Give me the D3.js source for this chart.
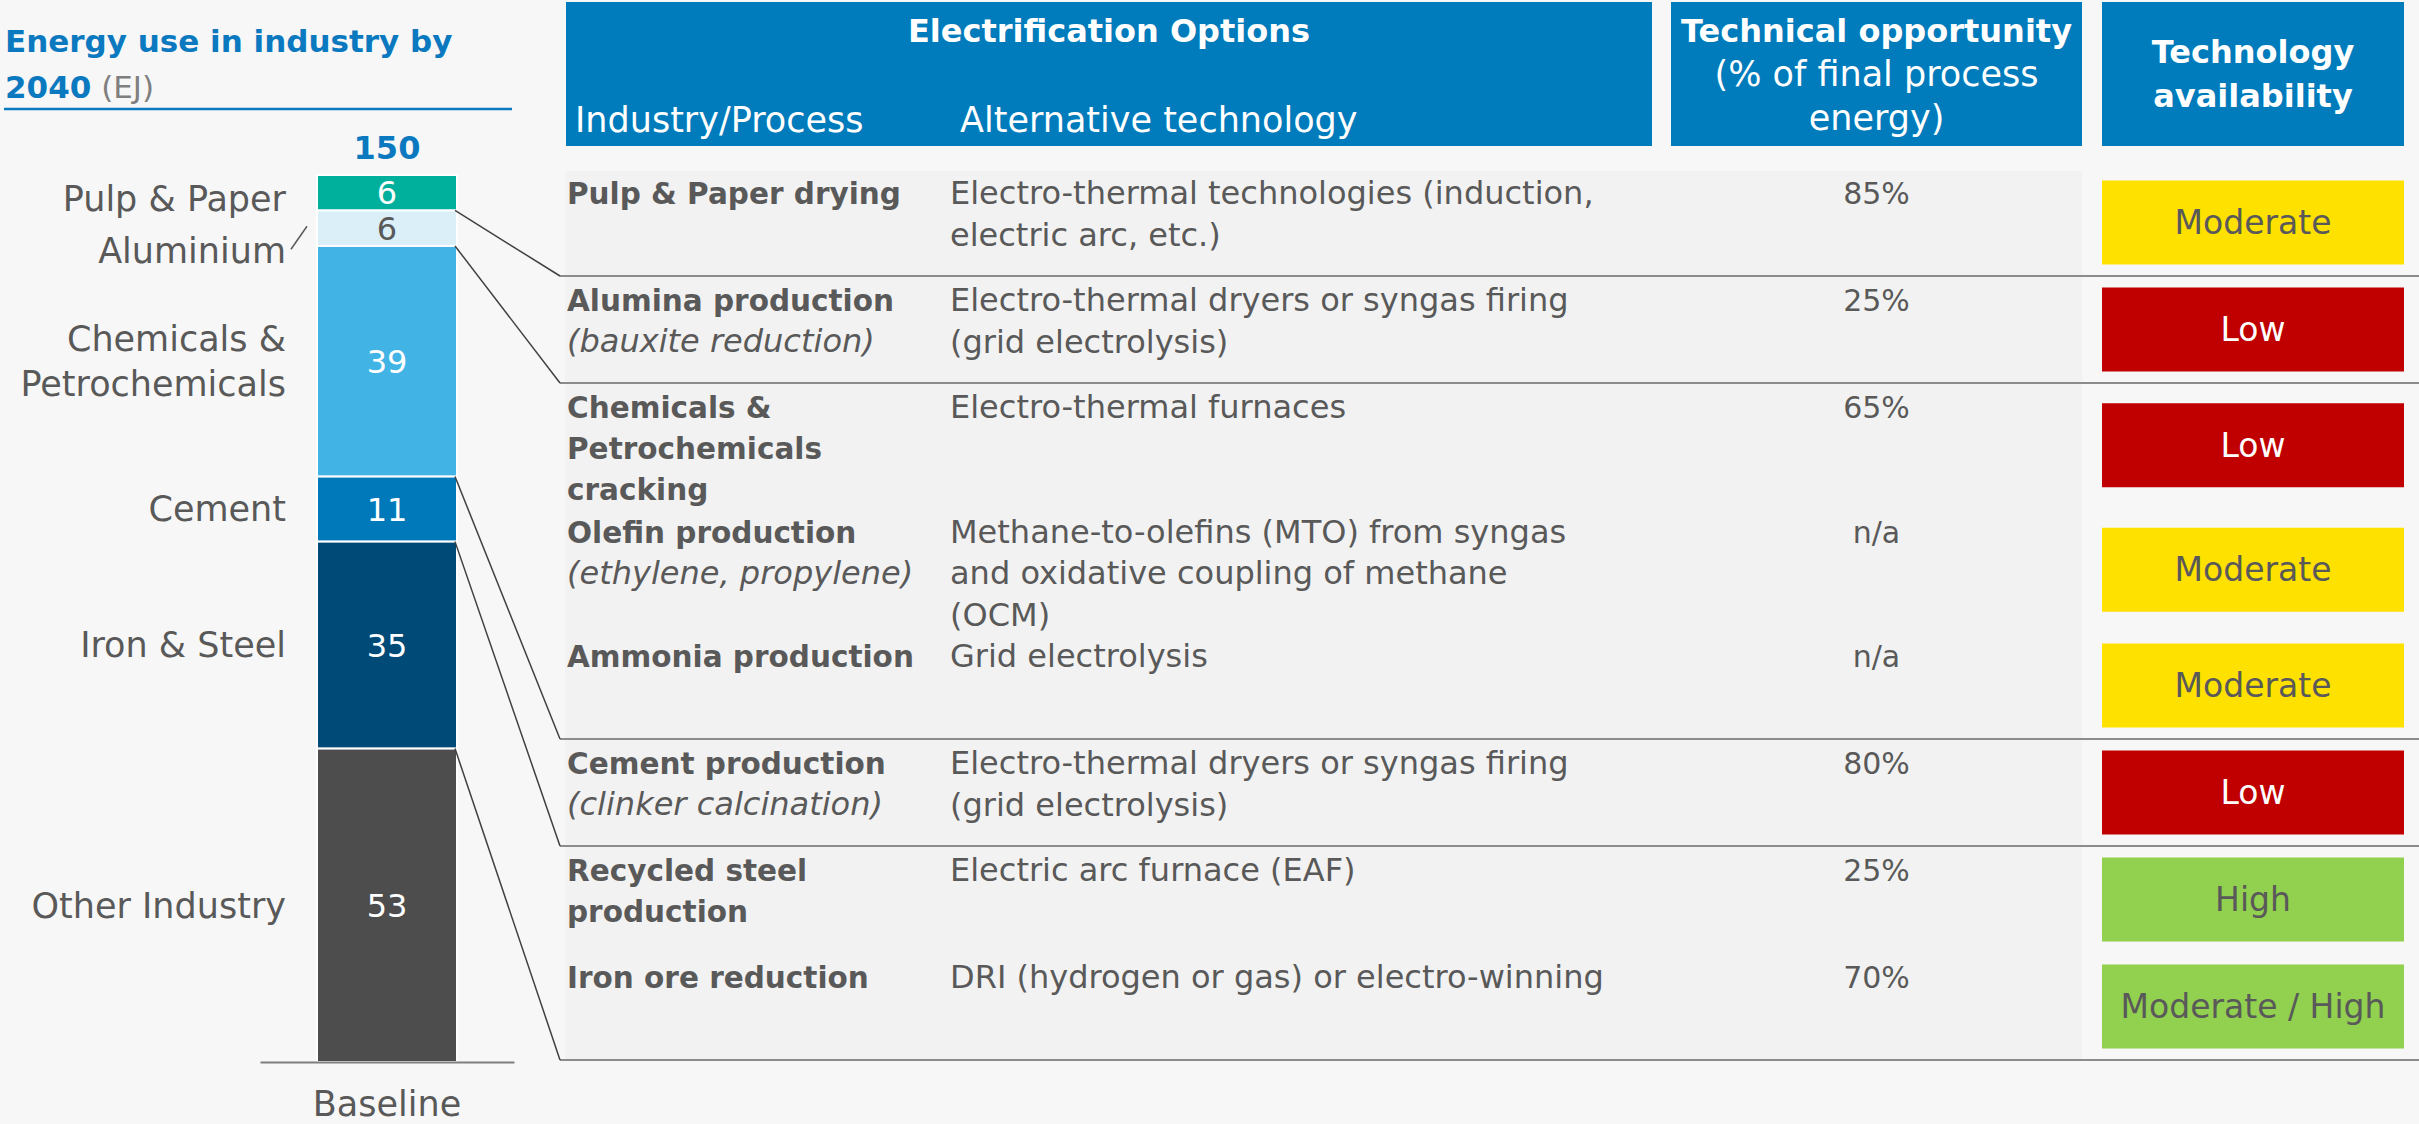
<!DOCTYPE html>
<html><head><meta charset="utf-8">
<script src="https://cdn.jsdelivr.net/npm/d3@7"></script>
<style>
html,body{margin:0;padding:0;background:#f7f7f7;}
svg{display:block;}
text{font-family:"DejaVu Sans",sans-serif;}
</style></head><body>
<svg id="chart" width="2419" height="1124"></svg>
<script>
// ---------------- DATA ----------------
const categoryLabelLines = [["Pulp & Paper"],["Aluminium"],["Chemicals &","Petrochemicals"],["Cement"],["Iron & Steel"],["Other Industry"]];
const energyValues = [6, 6, 39, 11, 35, 53];
const segmentColors = ["#00b09c","#dbeff9","#41b4e5","#0079ba","#004a77","#4d4d4d"];
const valueTextColors = ["#ffffff","#595959","#ffffff","#ffffff","#ffffff","#ffffff"];
const barCategory = ["Baseline"];
const totalValue = 150;

const processBold = [["Pulp & Paper drying"],["Alumina production"],["Chemicals &","Petrochemicals","cracking"],["Olefin production"],["Ammonia production"],["Cement production"],["Recycled steel","production"],["Iron ore reduction"]];
const processItalic = [[],["(bauxite reduction)"],[],["(ethylene, propylene)"],[],["(clinker calcination)"],[],[]];
const alternatives = [
  ["Electro-thermal technologies (induction,","electric arc, etc.)"],
  ["Electro-thermal dryers or syngas firing","(grid electrolysis)"],
  ["Electro-thermal furnaces"],
  ["Methane-to-olefins (MTO) from syngas","and oxidative coupling of methane","(OCM)"],
  ["Grid electrolysis"],
  ["Electro-thermal dryers or syngas firing","(grid electrolysis)"],
  ["Electric arc furnace (EAF)"],
  ["DRI (hydrogen or gas) or electro-winning"]
];
const opportunity = ["85%","25%","65%","n/a","n/a","80%","25%","70%"];
const availability = ["Moderate","Low","Low","Moderate","Moderate","Low","High","Moderate / High"];
const rowSegment = [0, 1, 2, 2, 2, 3, 4, 4];
const availabilityLevels = ["Low","Moderate","High","Moderate / High"];
const availabilityFills = ["#c00000","#ffe100","#92d050","#92d050"];
const availabilityTextFills = ["#ffffff","#595959","#595959","#595959"];

// ---------------- STYLE ----------------
const BLUE = "#0b79bf", HEAD = "#007bbb", GREY = "#595959";
const svg = d3.select("#chart");

// ---------------- TITLE ----------------
svg.append("text").attr("x",5).attr("y",52).attr("fill",BLUE)
  .attr("font-weight","bold").attr("font-size",31).text("Energy use in industry by");
const t2 = svg.append("text").attr("x",5).attr("y",98).attr("font-size",31);
t2.append("tspan").attr("font-weight","bold").attr("fill",BLUE).text("2040");
t2.append("tspan").attr("fill","#7f7f7f").text(" (EJ)");
svg.append("line").attr("x1",4).attr("x2",512).attr("y1",109).attr("y2",109)
  .attr("stroke",BLUE).attr("stroke-width",2.5);

// ---------------- BAR ----------------
const x = d3.scaleBand().domain(barCategory).range([260,514]).paddingInner(0).paddingOuter(0.407);
const y = d3.scaleLinear().domain([0,totalValue]).range([1062,175]);
const segs = energyValues.map((v,i)=>{
  const top = d3.sum(energyValues.slice(i));
  return {i, v, top, bottom: top - v};
});
const bx = x("Baseline"), bw = x.bandwidth();
const barG = svg.append("g");
barG.selectAll("rect").data(segs).join("rect")
  .attr("x",bx).attr("width",bw)
  .attr("y",d=>y(d.top)).attr("height",d=>y(d.bottom)-y(d.top))
  .attr("fill",d=>segmentColors[d.i]).attr("stroke","#ffffff").attr("stroke-width",2);
barG.selectAll("text.val").data(segs).join("text").attr("class","val")
  .attr("x",bx+bw/2).attr("y",d=>(y(d.top)+y(d.bottom))/2).attr("dy","0.36em")
  .attr("text-anchor","middle").attr("font-size",32)
  .attr("fill",d=>valueTextColors[d.i]).text(d=>d.v);
svg.append("text").attr("x",bx+bw/2).attr("y",y(totalValue)-16).attr("text-anchor","middle")
  .attr("font-size",32).attr("font-weight","bold").attr("fill",BLUE).text(d3.sum(energyValues));

// category labels
const labelNudge = [6, 23, 0, 0, 0, 0];
const labG = svg.append("g");
segs.forEach(d=>{
  const lines = categoryLabelLines[d.i];
  const cy = (y(d.top)+y(d.bottom))/2 + labelNudge[d.i];
  const t = labG.append("text").attr("text-anchor","end").attr("font-size",35).attr("fill",GREY);
  lines.forEach((ln,k)=>{
    t.append("tspan").attr("x",286).attr("y", cy + (k-(lines.length-1)/2)*45).attr("dy","0.35em").text(ln);
  });
});
// aluminium leader
{
  const d = segs[1]; const cy = (y(d.top)+y(d.bottom))/2;
  svg.append("line").attr("x1",bx-10).attr("y1",cy-2).attr("x2",bx-26).attr("y2",cy+21)
    .attr("stroke","#595959").attr("stroke-width",1.5);
}
// axis
const axG = svg.append("g").attr("transform",`translate(0,${y(0)})`)
  .call(d3.axisBottom(x).tickSize(0).tickSizeOuter(0).tickPadding(29));
axG.select(".domain").attr("stroke","#7f7f7f").attr("stroke-width",2);
axG.selectAll(".tick text").attr("font-size",35).attr("fill",GREY).attr("font-family","DejaVu Sans");

// ---------------- TABLE ----------------
const colProc = [566,1652], colOpp = [1671,2082], colAvail = [2102,2404];
const HT = 2, HB = 146;
const hG = svg.append("g");
[colProc,colOpp,colAvail].forEach(c=>{
  hG.append("rect").attr("x",c[0]).attr("y",HT).attr("width",c[1]-c[0]).attr("height",HB-HT).attr("fill",HEAD);
});
const hText = (xx,yy,txt,bold,size,anchor)=>hG.append("text").attr("x",xx).attr("y",yy)
  .attr("fill","#fff").attr("font-size",size).attr("font-weight",bold?"bold":"normal")
  .attr("text-anchor",anchor).text(txt);
hText((colProc[0]+colProc[1])/2,42,"Electrification Options",true,32,"middle");
hText(575,132,"Industry/Process",false,35,"start");
hText(960,132,"Alternative technology",false,35,"start");
const oc = (colOpp[0]+colOpp[1])/2, ac = (colAvail[0]+colAvail[1])/2;
hText(oc,42,"Technical opportunity",true,32,"middle");
hText(oc,86,"(% of final process",false,35,"middle");
hText(oc,130,"energy)",false,35,"middle");
hText(ac,63,"Technology",true,32,"middle");
hText(ac,107,"availability",true,32,"middle");

// body layout
const rowTop0 = 169, lineH = 41, minRowH = 107, lineStep = 41.5;
const rows = processBold.map((b,i)=>{
  const n = Math.max(b.length + processItalic[i].length, alternatives[i].length);
  return {i, h: Math.max(minRowH, n*lineStep)};
});
let acc = rowTop0;
rows.forEach(r=>{ r.top = acc; acc += r.h; });
const bodyBottom = acc;

svg.insert("rect","g").attr("x",565).attr("y",171).attr("width",colOpp[1]-565)
  .attr("height",bodyBottom-171).attr("fill","#f2f2f2");

const bG = svg.append("g");
const aColor = d3.scaleOrdinal().domain(availabilityLevels).range(availabilityFills);
const aText = d3.scaleOrdinal().domain(availabilityLevels).range(availabilityTextFills);
rows.forEach(r=>{
  const base = r.top + 35;
  const i = r.i;
  let k = 0;
  processBold[i].forEach(ln=>{
    bG.append("text").attr("x",567).attr("y",base+k*lineH).attr("font-size",29.5)
      .attr("font-weight","bold").attr("fill",GREY).text(ln); k++;
  });
  processItalic[i].forEach(ln=>{
    bG.append("text").attr("x",567).attr("y",base+k*lineH).attr("font-size",32)
      .attr("font-style","italic").attr("fill",GREY).text(ln); k++;
  });
  alternatives[i].forEach((ln,j)=>{
    bG.append("text").attr("x",950).attr("y",base+j*lineStep).attr("font-size",32)
      .attr("fill",GREY).text(ln);
  });
  bG.append("text").attr("x",oc).attr("y",base).attr("font-size",30).attr("text-anchor","middle")
    .attr("fill",GREY).text(opportunity[i]);
  const cy = r.top + r.h/2;
  bG.append("rect").attr("x",colAvail[0]).attr("width",colAvail[1]-colAvail[0])
    .attr("y",cy-42).attr("height",84).attr("fill",aColor(availability[i]));
  bG.append("text").attr("x",ac).attr("y",cy).attr("dy","0.35em").attr("font-size",33)
    .attr("text-anchor","middle").attr("fill",aText(availability[i])).text(availability[i]);
});

// separators & connectors
const sepG = svg.append("g");
rows.forEach((r,idx)=>{
  if (idx === rows.length-1 || rowSegment[idx] !== rowSegment[idx+1]) {
    const sy = r.top + r.h;
    sepG.append("line").attr("x1",560).attr("x2",2419).attr("y1",sy).attr("y2",sy)
      .attr("stroke","#8c8c8c").attr("stroke-width",2);
    const s = segs[rowSegment[idx]];
    sepG.append("line").attr("x1",bx+bw-2).attr("y1",y(s.bottom)).attr("x2",560).attr("y2",sy)
      .attr("stroke","#404040").attr("stroke-width",1.5);
  }
});
</script>
</body></html>
